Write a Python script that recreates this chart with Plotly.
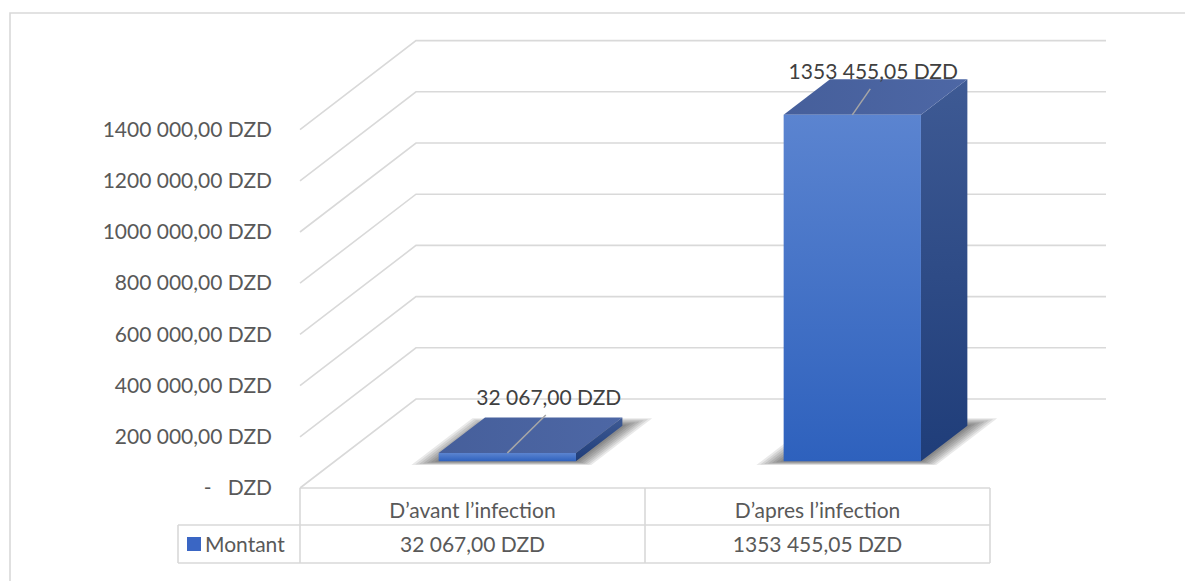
import plotly.graph_objects as go

# ---- data -------------------------------------------------------------
categories = ["D\u2019avant l\u2019infection", "D\u2019apres l\u2019infection"]
montant = [32067.00, 1353455.05]
series_name = "Montant"
tick_values = [0, 200000, 400000, 600000, 800000, 1000000, 1200000, 1400000]
currency = "DZD"


def fmt_dzd(v):
    """Accounting-style amount: '1353 455,05 DZD', zero shown as a dash."""
    if v == 0:
        return "-\u00a0\u00a0\u00a0" + currency
    ip, dp = f"{v:.2f}".split(".")
    if len(ip) > 3:
        ip = ip[:-3] + " " + ip[-3:]
    return f"{ip},{dp} {currency}"


# ---- pseudo-3D frame --------------------------------------------------
W, H = 1185, 581
ORIGIN_PX = (300, 488)          # front-left corner of the floor
CAT_W_PX = 345.0                # width of one category slot on the front plane
PX_PER_VAL = 51.2 / 200000      # vertical scale of the value axis
DEPTH_PX = (116, -89)           # screen shift from front plane to back wall

X_RANGE = [-ORIGIN_PX[0] / CAT_W_PX, (W - ORIGIN_PX[0]) / CAT_W_PX]
Y_RANGE = [-(H - ORIGIN_PX[1]) / PX_PER_VAL, ORIGIN_PX[1] / PX_PER_VAL]
DU = DEPTH_PX[0] / CAT_W_PX
DV = -DEPTH_PX[1] / PX_PER_VAL

BAR_HALF = 0.199                # half bar width (category units)
BAR_D0, BAR_D1 = 0.30, 0.70     # bar depth span (fraction of floor depth)

GRID = "#d9d9d9"
TXT = "#595959"
LBL = "#404040"
FONT = "Lato"
FS = 21
TEXT_NUDGE_PX = 2               # optical baseline correction for text


def xpx(p):
    return (p - ORIGIN_PX[0]) / CAT_W_PX


def ypx(p):
    return (ORIGIN_PX[1] - p) / PX_PER_VAL


def sx(d):
    return d / CAT_W_PX


def sy(d):
    return -d / PX_PER_VAL


def proj(u, v, d):
    return u + d * DU, v + d * DV


def poly(pts):
    xs = [p[0] for p in pts] + [pts[0][0]]
    ys = [p[1] for p in pts] + [pts[0][1]]
    return xs, ys


fig = go.Figure()

# walls: back-wall gridlines and side-wall diagonals
gx, gy = [], []
n_cat = len(categories)
for t in tick_values:
    a = proj(0, t, 0)
    b = proj(0, t, 1)
    c = proj(n_cat, t, 1)
    gx += [a[0], b[0], c[0], None]
    gy += [a[1], b[1], c[1], None]
fig.add_trace(go.Scatter(x=gx, y=gy, mode="lines",
                         line=dict(color=GRID, width=1.6), hoverinfo="skip"))

# soft floor shadows under the bars
for i, val in enumerate(montant):
    c = i + 0.5
    for k in range(1, 8):
        e = sx(3.2 * k)
        d_front = BAR_D0 - 0.006 * k
        d_back = BAR_D1 + 0.012 * k
        pts = [proj(c - BAR_HALF - e, 0, d_front), proj(c + BAR_HALF + e * 0.9, 0, d_front),
               proj(c + BAR_HALF + e * 0.9, 0, d_back), proj(c - BAR_HALF - e, 0, d_back)]
        xs, ys = poly(pts)
        fig.add_trace(go.Scatter(x=xs, y=ys, mode="lines", fill="toself",
                                 fillcolor="rgba(20,20,20,0.095)",
                                 line=dict(width=0), hoverinfo="skip"))

# bars: right side, top and front faces
for i, val in enumerate(montant):
    c = i + 0.5
    l, r = c - BAR_HALF, c + BAR_HALF
    side = [proj(r, 0, BAR_D0), proj(r, 0, BAR_D1), proj(r, val, BAR_D1), proj(r, val, BAR_D0)]
    top = [proj(l, val, BAR_D0), proj(r, val, BAR_D0), proj(r, val, BAR_D1), proj(l, val, BAR_D1)]
    front = [proj(l, 0, BAR_D0), proj(r, 0, BAR_D0), proj(r, val, BAR_D0), proj(l, val, BAR_D0)]
    xs, ys = poly(side)
    fig.add_trace(go.Scatter(x=xs, y=ys, mode="lines", fill="toself",
                             fillgradient=dict(type="vertical",
                                               colorscale=[[0, "#1f3d79"], [1, "#3e5a94"]]),
                             line=dict(width=0), hoverinfo="skip"))
    xs, ys = poly(top)
    fig.add_trace(go.Scatter(x=xs, y=ys, mode="lines", fill="toself",
                             fillgradient=dict(type="horizontal",
                                               colorscale=[[0, "#465f9b"], [1, "#4d67a5"]]),
                             line=dict(width=0), hoverinfo="skip"))
    xs, ys = poly(front)
    fig.add_trace(go.Scatter(x=xs, y=ys, mode="lines", fill="toself",
                             fillgradient=dict(type="vertical",
                                               colorscale=[[0, "#2e61bd"], [1, "#5b84d0"]]),
                             line=dict(width=0), hoverinfo="skip"))

# data labels with leader lines
LABEL_SHIFT_PX = [(41.5, -55), (21, -43)]
LEADER_END_PX = (-3, 17)
for i, val in enumerate(montant):
    ax, ay = proj(i + 0.5, val, BAR_D0)
    lx = ax + sx(LABEL_SHIFT_PX[i][0])
    ly = ay + sy(LABEL_SHIFT_PX[i][1])
    ex = lx + sx(LEADER_END_PX[0])
    ey = ly + sy(LEADER_END_PX[1])
    fig.add_trace(go.Scatter(x=[ax, ex], y=[ay, ey], mode="lines",
                             line=dict(color="#a6a6a6", width=1.5), hoverinfo="skip"))
    fig.add_trace(go.Scatter(x=[lx], y=[ly + sy(TEXT_NUDGE_PX)], mode="text",
                             text=[fmt_dzd(val)], textposition="middle center",
                             textfont=dict(family=FONT, size=FS, color=LBL),
                             hoverinfo="skip"))

# value-axis tick labels on the front plane
fig.add_trace(go.Scatter(x=[xpx(272)] * len(tick_values),
                         y=[t + sy(TEXT_NUDGE_PX) for t in tick_values], mode="text",
                         text=[fmt_dzd(t) for t in tick_values],
                         textposition="middle left",
                         textfont=dict(family=FONT, size=FS, color=TXT),
                         hoverinfo="skip"))

# data table
ROW_TOP, ROW_MID, ROW_BOT = ypx(488), ypx(525), ypx(563)
LEG_LEFT = xpx(178)
table_lines = [
    (0, ROW_TOP, n_cat, ROW_TOP),
    (LEG_LEFT, ROW_MID, n_cat, ROW_MID),
    (LEG_LEFT, ROW_BOT, n_cat, ROW_BOT),
    (LEG_LEFT, ROW_MID, LEG_LEFT, ROW_BOT),
]
for k in range(n_cat + 1):
    table_lines.append((k, ROW_TOP, k, ROW_BOT))
for x0, y0, x1, y1 in table_lines:
    fig.add_shape(type="line", xref="x", yref="y", x0=x0, y0=y0, x1=x1, y1=y1,
                  line=dict(color=GRID, width=1.6), layer="below")

fig.add_trace(go.Scatter(x=[i + 0.5 for i in range(n_cat)],
                         y=[ypx(511 + TEXT_NUDGE_PX)] * n_cat,
                         mode="text", text=categories, textposition="middle center",
                         textfont=dict(family=FONT, size=FS, color=TXT), hoverinfo="skip"))
fig.add_trace(go.Scatter(x=[i + 0.5 for i in range(n_cat)],
                         y=[ypx(545 + TEXT_NUDGE_PX)] * n_cat,
                         mode="text", text=[fmt_dzd(v) for v in montant],
                         textposition="middle center",
                         textfont=dict(family=FONT, size=FS, color=TXT), hoverinfo="skip"))

# legend key inside the table
fig.add_trace(go.Scatter(x=[xpx(194)], y=[ypx(544)], mode="markers",
                         marker=dict(symbol="square", size=14, color="#3a66c4",
                                     line=dict(width=0)),
                         hoverinfo="skip"))
fig.add_trace(go.Scatter(x=[xpx(205)], y=[ypx(545 + TEXT_NUDGE_PX)], mode="text",
                         text=[series_name], textposition="middle right",
                         textfont=dict(family=FONT, size=FS, color=TXT), hoverinfo="skip"))

# chart-area border
fig.add_shape(type="rect", xref="paper", yref="paper",
              x0=10 / W, x1=1.02, y0=-0.02, y1=1 - 13 / H,
              line=dict(color=GRID, width=1.6), fillcolor="rgba(0,0,0,0)", layer="below")

fig.update_layout(
    width=W, height=H, autosize=False,
    margin=dict(l=0, r=0, t=0, b=0),
    paper_bgcolor="white", plot_bgcolor="white",
    showlegend=False,
    xaxis=dict(range=X_RANGE, visible=False, fixedrange=True),
    yaxis=dict(range=Y_RANGE, visible=False, fixedrange=True),
)

fig.write_html("out.html", config={"displayModeBar": False})
